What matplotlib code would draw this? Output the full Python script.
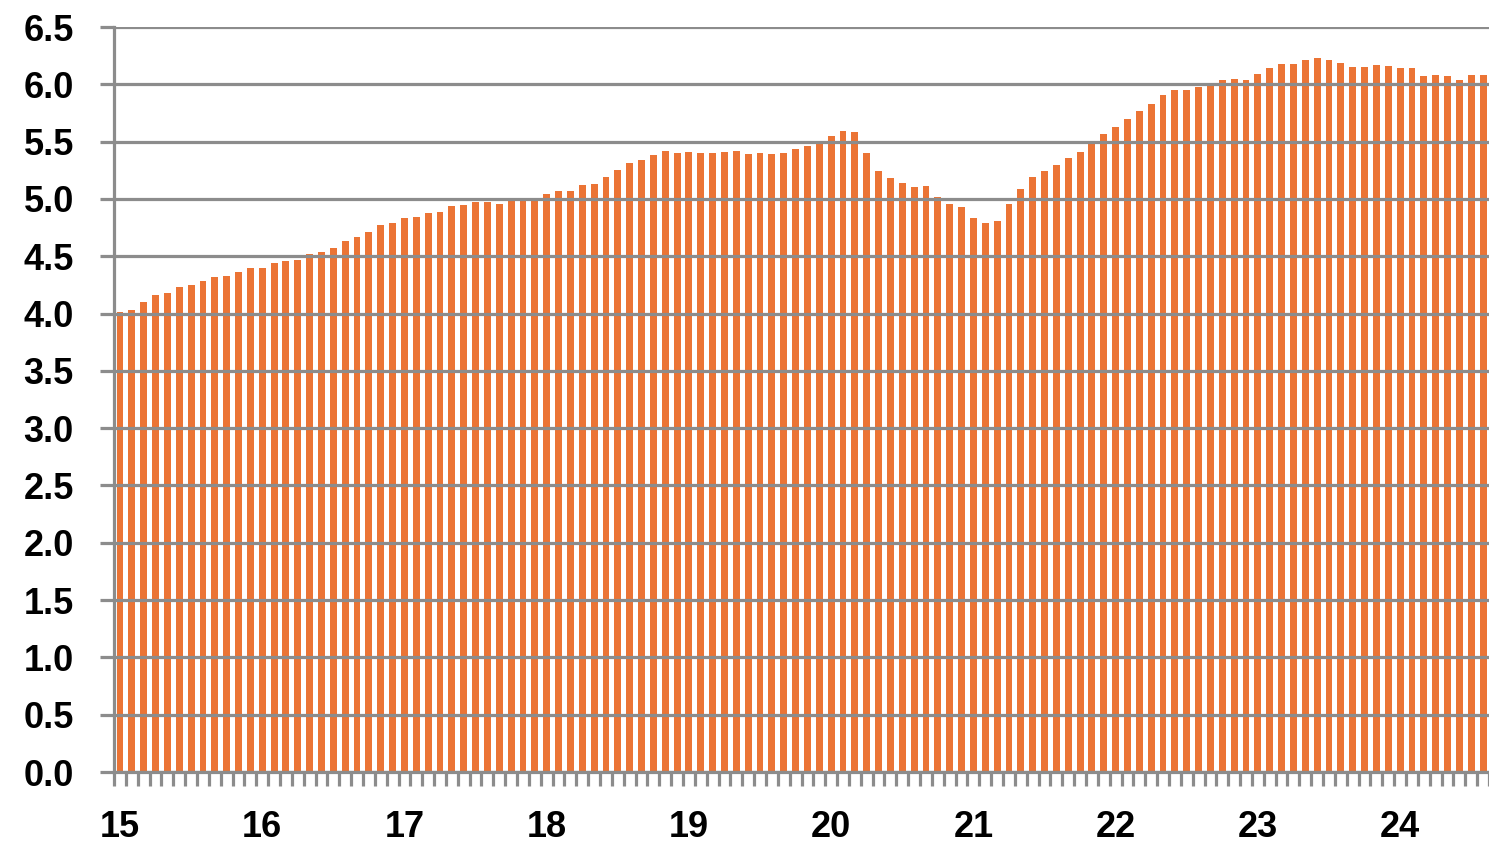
import numpy as np
import matplotlib.pyplot as plt

# monthly values, Jan 2015 .. Aug 2024
values = [
    4.01, 4.03, 4.10, 4.16, 4.18, 4.23, 4.25, 4.28, 4.32, 4.33, 4.36, 4.40,   # 2015
    4.40, 4.44, 4.46, 4.47, 4.52, 4.54, 4.57, 4.63, 4.67, 4.71, 4.77, 4.79,   # 2016
    4.83, 4.84, 4.88, 4.89, 4.94, 4.95, 4.97, 4.97, 4.96, 4.98, 4.98, 5.00,   # 2017
    5.04, 5.07, 5.07, 5.12, 5.13, 5.19, 5.25, 5.31, 5.34, 5.38, 5.42, 5.40,   # 2018
    5.41, 5.40, 5.40, 5.41, 5.42, 5.39, 5.40, 5.39, 5.40, 5.44, 5.46, 5.50,   # 2019
    5.55, 5.59, 5.58, 5.40, 5.24, 5.18, 5.14, 5.10, 5.11, 5.02, 4.96, 4.93,   # 2020
    4.83, 4.79, 4.81, 4.96, 5.09, 5.19, 5.24, 5.30, 5.36, 5.41, 5.50, 5.57,   # 2021
    5.63, 5.70, 5.77, 5.83, 5.91, 5.95, 5.95, 5.98, 6.01, 6.04, 6.05, 6.04,   # 2022
    6.09, 6.14, 6.18, 6.18, 6.21, 6.23, 6.21, 6.19, 6.15, 6.15, 6.17, 6.16,   # 2023
    6.14, 6.14, 6.07, 6.08, 6.07, 6.04, 6.08, 6.08,                           # 2024
]
year_labels = ['15', '16', '17', '18', '19', '20', '21', '22', '23', '24']

grid_c = '#8c8c8c'
bar_c = '#EB7435'

fig = plt.figure(figsize=(14.89, 8.44), dpi=100)
ax = fig.add_axes([0.0766, 0.0853, 0.9234, 0.8827])

x = np.arange(len(values))
ax.bar(x, values, width=0.58, color=bar_c, zorder=1)

ax.set_xlim(-0.5, len(values) - 0.5)
ax.set_ylim(0, 6.5)
ax.set_yticks(np.arange(0, 6.51, 0.5))
ax.set_yticklabels([f'{v:.1f}' for v in np.arange(0, 6.51, 0.5)])
ax.yaxis.grid(True, color=grid_c, linewidth=2.3, zorder=2)
ax.set_axisbelow(False)

# year labels under the January bars, boundary ticks between months
ax.set_xticks(x[::12])
ax.set_xticklabels(year_labels)
ax.set_xticks(np.arange(-0.5, len(values), 1.0), minor=True)
ax.tick_params(axis='x', which='major', length=0, pad=27)
ax.tick_params(axis='x', which='minor', length=10, width=2.3, color=grid_c)
ax.tick_params(axis='y', length=10, width=2.3, color=grid_c, pad=19)

for lab in ax.get_xticklabels() + ax.get_yticklabels():
    lab.set_fontfamily('Liberation Sans')
    lab.set_fontweight('bold')
    lab.set_fontsize(26)

for s in ['top', 'right']:
    ax.spines[s].set_visible(False)
for s in ['left', 'bottom']:
    ax.spines[s].set_color(grid_c)
    ax.spines[s].set_linewidth(2.3)
    ax.spines[s].set_zorder(3)

fig.savefig('out.png', dpi=100)
